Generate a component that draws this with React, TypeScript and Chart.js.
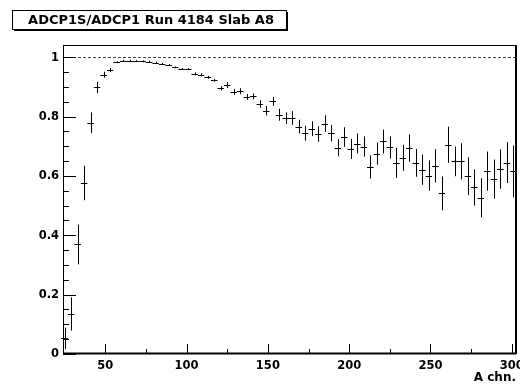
import React, { useEffect, useRef } from "react";
import { Chart, registerables } from "chart.js";

Chart.register(...registerables);

const title = "ADCP1S/ADCP1 Run 4184 Slab A8";
const xTitle = "A chn.";

const binCenters = [
  25, 29, 33, 37, 41, 45, 49, 53, 57, 61,
  65, 69, 73, 77, 81, 85, 89, 93, 97, 101,
  105, 109, 113, 117, 121, 125, 129, 133, 137, 141,
  145, 149, 153, 157, 161, 165, 169, 173, 177, 181,
  185, 189, 193, 197, 201, 205, 209, 213, 217, 221,
  225, 229, 233, 237, 241, 245, 249, 253, 257, 261,
  265, 269, 273, 277, 281, 285, 289, 293, 297, 301,
];

const ratio = [
  0.053, 0.135, 0.369, 0.576, 0.779, 0.898, 0.941, 0.957, 0.983, 0.988,
  0.988, 0.987, 0.986, 0.985, 0.982, 0.978, 0.974, 0.966, 0.960, 0.960,
  0.944, 0.940, 0.932, 0.922, 0.895, 0.906, 0.883, 0.885, 0.866, 0.868,
  0.842, 0.820, 0.851, 0.806, 0.794, 0.795, 0.766, 0.744, 0.759, 0.741,
  0.776, 0.744, 0.695, 0.731, 0.691, 0.709, 0.699, 0.630, 0.675, 0.716,
  0.696, 0.644, 0.661, 0.694, 0.644, 0.621, 0.601, 0.634, 0.541, 0.705,
  0.649, 0.649, 0.599, 0.561, 0.526, 0.616, 0.589, 0.623, 0.645, 0.615,
];

const ratioErr = [
  0.036, 0.056, 0.067, 0.058, 0.035, 0.019, 0.010, 0.007, 0.003, 0.003,
  0.003, 0.003, 0.003, 0.003, 0.003, 0.003, 0.003, 0.003, 0.003, 0.003,
  0.005, 0.005, 0.005, 0.005, 0.007, 0.010, 0.010, 0.010, 0.010, 0.010,
  0.013, 0.016, 0.015, 0.020, 0.020, 0.023, 0.023, 0.025, 0.025, 0.026,
  0.028, 0.028, 0.029, 0.033, 0.034, 0.034, 0.034, 0.039, 0.037, 0.040,
  0.037, 0.051, 0.044, 0.046, 0.047, 0.051, 0.051, 0.056, 0.057, 0.061,
  0.050, 0.061, 0.064, 0.061, 0.066, 0.066, 0.066, 0.066, 0.069, 0.087,
];

const binHalfWidth = 2;
const refLevel = 1;

const xMajorTicks = [50, 100, 150, 200, 250, 300];
const xMinorTicks = [75, 125, 175, 225, 275];
const yMajorTicks = [0, 0.2, 0.4, 0.6, 0.8, 1];
const yTickLabels = ["0", "0.2", "0.4", "0.6", "0.8", "1"];
const yMinorTicks = [0.05, 0.1, 0.15, 0.25, 0.3, 0.35, 0.45, 0.5, 0.55, 0.65, 0.7, 0.75, 0.85, 0.9, 0.95];

const FONT = '"DejaVu Sans", Verdana, sans-serif';

const rootStyle = {
  id: "rootStyle",
  afterDatasetsDraw(chart: any) {
    const { ctx, chartArea: a, scales } = chart;
    const x = scales.x;
    const y = scales.y;
    ctx.save();

    // reference dashed line
    const yr = Math.round(y.getPixelForValue(refLevel)) + 0.5;
    ctx.strokeStyle = "#444";
    ctx.lineWidth = 1;
    ctx.setLineDash([3, 2]);
    ctx.beginPath();
    ctx.moveTo(a.left, yr);
    ctx.lineTo(a.right, yr);
    ctx.stroke();
    ctx.setLineDash([]);

    // error bars
    ctx.strokeStyle = "#000";
    ctx.lineWidth = 1;
    ctx.beginPath();
    for (let i = 0; i < binCenters.length; i++) {
      const xc = Math.round(x.getPixelForValue(binCenters[i])) + 0.5;
      const xl = x.getPixelForValue(binCenters[i] - binHalfWidth);
      const xh = x.getPixelForValue(binCenters[i] + binHalfWidth);
      const yc = Math.round(y.getPixelForValue(ratio[i])) + 0.5;
      const yl = y.getPixelForValue(ratio[i] - ratioErr[i]);
      const yh = y.getPixelForValue(ratio[i] + ratioErr[i]);
      ctx.moveTo(xl, yc);
      ctx.lineTo(xh, yc);
      ctx.moveTo(xc, yl);
      ctx.lineTo(xc, yh);
    }
    ctx.stroke();

    // frame
    ctx.strokeStyle = "#000";
    ctx.lineWidth = 1;
    ctx.strokeRect(a.left + 0.5, a.top + 0.5, a.right - a.left - 1, a.bottom - a.top - 1);
    ctx.lineWidth = 2;
    ctx.beginPath();
    ctx.moveTo(a.right, a.top);
    ctx.lineTo(a.right, a.bottom);
    ctx.moveTo(a.left, a.bottom - 0.5);
    ctx.lineTo(a.right, a.bottom - 0.5);
    ctx.stroke();

    // ticks
    ctx.lineWidth = 1;
    ctx.beginPath();
    for (const v of yMajorTicks) {
      const py = Math.round(y.getPixelForValue(v)) + 0.5;
      ctx.moveTo(a.left, py);
      ctx.lineTo(a.left + 13, py);
    }
    for (const v of yMinorTicks) {
      const py = Math.round(y.getPixelForValue(v)) + 0.5;
      ctx.moveTo(a.left, py);
      ctx.lineTo(a.left + 6, py);
    }
    for (const v of xMajorTicks) {
      const px = Math.round(x.getPixelForValue(v)) + 0.5;
      ctx.moveTo(px, a.bottom);
      ctx.lineTo(px, a.bottom - 10);
    }
    for (const v of xMinorTicks) {
      const px = Math.round(x.getPixelForValue(v)) + 0.5;
      ctx.moveTo(px, a.bottom);
      ctx.lineTo(px, a.bottom - 5);
    }
    ctx.stroke();

    // tick labels
    ctx.fillStyle = "#000";
    ctx.font = `bold 11.5px ${FONT}`;
    ctx.textAlign = "right";
    ctx.textBaseline = "middle";
    yMajorTicks.forEach((v, i) => {
      ctx.fillText(yTickLabels[i], a.left - 4, y.getPixelForValue(v) + 0.5);
    });
    ctx.textAlign = "center";
    ctx.textBaseline = "middle";
    xMajorTicks.forEach((v) => {
      ctx.fillText(String(v), x.getPixelForValue(v), a.bottom + 12.5);
    });
    ctx.font = `bold 12px ${FONT}`;
    ctx.textAlign = "right";
    ctx.fillText(xTitle, a.right, a.bottom + 23.5);

    // title box with shadow
    const bx = 12, by = 10, bw = 274, bh = 19;
    ctx.fillStyle = "#fff";
    ctx.fillRect(bx, by, bw, bh);
    ctx.fillStyle = "#000";
    ctx.fillRect(bx + 2, by + bh, bw, 2);
    ctx.fillRect(bx + bw, by + 2, 2, bh);
    ctx.lineWidth = 1;
    ctx.strokeRect(bx + 0.5, by + 0.5, bw, bh);
    ctx.font = `bold 13px ${FONT}`;
    ctx.textAlign = "center";
    ctx.textBaseline = "middle";
    ctx.fillText(title, bx + bw / 2 + 2, by + bh / 2 + 1);

    ctx.restore();
  },
};

export default function App() {
  const ref = useRef<HTMLCanvasElement | null>(null);

  useEffect(() => {
    if (!ref.current) return;
    const points = binCenters.map((c, i) => ({ x: c, y: ratio[i] }));
    const chart = new Chart(ref.current, {
      type: "scatter",
      data: {
        datasets: [
          {
            label: "ratio",
            data: points,
            pointRadius: 0,
            pointHoverRadius: 0,
            showLine: false,
            borderColor: "#000",
            backgroundColor: "#000",
          },
        ],
      },
      options: {
        responsive: false,
        animation: false,
        events: [],
        layout: { padding: { left: 63, top: 45, right: 4, bottom: 31 } },
        plugins: {
          legend: { display: false },
          title: { display: false },
          tooltip: { enabled: false },
        },
        scales: {
          x: { type: "linear", min: 24, max: 302.6, display: false },
          y: { type: "linear", min: 0, max: 1.041, display: false },
        },
      },
      plugins: [rootStyle],
    });
    return () => chart.destroy();
  }, []);

  return (
    <div style={{ position: "fixed", left: 0, top: 0, width: 520, height: 385, background: "#fff" }}>
      <canvas ref={ref} width={520} height={385} style={{ width: 520, height: 385, display: "block" }} />
    </div>
  );
}
